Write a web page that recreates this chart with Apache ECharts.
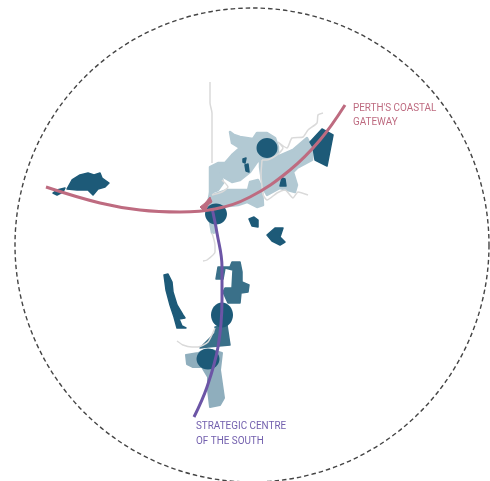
<!DOCTYPE html>
<html><head><meta charset="utf-8">
<style>html,body{margin:0;padding:0;background:#fff}#c{width:490px;height:481px}</style>
<script src="https://cdn.jsdelivr.net/npm/echarts@6/dist/echarts.min.js"></script>
</head><body><div id="c"></div>
<script>
const lightAreas=[
 [[230,132],[234,135],[240,137],[253,139],[257,133],[267,133],[275,138],[278,147],[278,155],[273,158],[260,160],[257,162],[250,172],[240,180],[232,182],[225,178],[221,173],[223,183],[218,190],[210,193],[210,167],[218,163],[225,163],[232,155],[240,148],[232,143]],
 [[210,193],[213,195],[227,190],[248,190],[250,182],[258,180],[262,188],[263,205],[257,207],[247,202],[238,205],[220,207],[207,208]],
 [[260,162],[270,160],[293,150],[307,138],[313,150],[312,160],[297,168],[293,172],[297,185],[295,192],[280,188],[267,195],[263,188],[260,167]],
 [[210,222],[216,224],[216,232],[212,233]]
];
const paleTealAreas=[
 [[212,350],[222,353],[220,370],[224,398],[220,405],[210,407],[208,390],[208,377],[202,367],[193,367],[187,364],[186,355],[198,353]]
];
const midAreas=[
 [[232,262],[240,262],[242,272],[242,282],[249,285],[248,292],[241,293],[240,303],[228,303],[223,292],[225,288],[232,288],[233,270],[225,268],[223,279],[216,279],[218,267],[230,267]],
 [[215,327],[227,325],[230,345],[208,347],[200,348],[210,338],[215,333]]
];
const darkAreas=[
 [[310,142],[322,129],[333,135],[327,166],[315,160],[313,147]],
 [[164,275],[168,274],[172,282],[173,292],[177,305],[183,315],[185,318],[179,319],[182,326],[186,328],[177,328],[174,317],[170,305],[166,290]],
 [[67,189],[72,180],[80,175],[88,173],[94,175],[100,173],[102,178],[109,183],[105,187],[98,189],[93,195],[88,190],[77,190]],
 [[53,193],[57,190],[65,188],[63,192],[57,195]],
 [[249,219],[254,217],[258,220],[258,227],[252,226]],
 [[267,235],[275,228],[283,228],[280,237],[285,242],[280,245],[272,241]],
 [[243,159],[246,158],[245,163],[243,162]],
 [[245,165],[248,164],[249,172],[246,171]],
 [[282,178],[285,179],[286,186],[280,186]]
];
const darkEllipses=[[267,148,10.5,10],[216,214,11,10.5],[222,315,11,12.5],[208,359,11.5,10.5]];
const redMark=[[[200,207],[205,203],[210,197],[212,202],[208,205],[205,212]]];
const rivers=[
 [[210,82],[210,103],[212,113],[212,163]],
 [[212,233],[215,245],[215,252],[207,260],[203,261]],
 [[262,160],[267,160],[277,155],[283,148],[278,142],[287,148],[292,138],[303,137],[308,130],[317,123],[318,115],[323,113]],
 [[263,195],[267,200],[277,193],[285,190],[293,198],[298,192],[308,195]],
 [[262,160],[261,175],[263,195]],
 [[212,195],[222,192],[228,187],[222,180]],
 [[177,341],[183,345],[192,347],[198,347],[208,342],[215,328]]
];
const perthLine=[[46,187],[100,203],[140,210],[180,212],[215,209],[250,197],[290,170],[320,140],[345,105]];
const southLine=[[194,417],[207,387],[218,347],[222,300],[222,267],[217,233],[212,208]];
const boundary=[252,245,237];
const labels=[
 ["PERTH'S COASTAL",353,108,'#BE6B80'],
 ["GATEWAY",353,122,'#BE6B80'],
 ["STRATEGIC CENTRE",196,426,'#7360AE'],
 ["OF THE SOUTH",196,441,'#7360AE']
];
const polySeries=(areas,color,w)=>({
 type:'custom',coordinateSystem:'cartesian2d',silent:true,
 data:areas.map((_,i)=>[i]),
 renderItem:(p,api)=>({type:'polygon',shape:{points:areas[api.value(0)].map(q=>api.coord(q))},style:{fill:color,stroke:color,lineWidth:w,lineJoin:'round'}})
});
const lineSeries=(d,color,w,z)=>({type:'line',data:d,smooth:0.4,symbol:'none',silent:true,z:z,lineStyle:{color:color,width:w,cap:'butt'}});
const chart=echarts.init(document.getElementById('c'),null,{renderer:'canvas'});
chart.setOption({
 animation:false,
 backgroundColor:'#fff',
 grid:{left:0,right:0,top:0,bottom:0},
 xAxis:{type:'value',min:0,max:490,show:false},
 yAxis:{type:'value',min:0,max:481,inverse:true,show:false},
 series:[
  {type:'custom',silent:true,data:[boundary],clip:false,
   renderItem:(p,api)=>{const c=api.coord([api.value(0),api.value(1)]);return {type:'circle',shape:{cx:c[0],cy:c[1],r:api.size([api.value(2),0])[0]},style:{fill:'none',stroke:'#444',lineWidth:1.4,lineDash:[4.5,3]}};}},
  polySeries(lightAreas,'#B2C9D3',2.5),
  polySeries(paleTealAreas,'#8FAEBD',2),
  ...rivers.map(r=>({type:'line',data:r,smooth:0.2,symbol:'none',silent:true,lineStyle:{color:'#DADADA',width:1.5}})),
  polySeries(midAreas,'#3A7089',1.5),
  polySeries(darkAreas,'#1D5A78',1.5),
  {type:'custom',silent:true,data:darkEllipses,
   renderItem:(p,api)=>{const c=api.coord([api.value(0),api.value(1)]);return {type:'ellipse',shape:{cx:c[0],cy:c[1],rx:api.value(2),ry:api.value(3)},style:{fill:'#1D5A78'}};}},
  polySeries(redMark,'#BE6B80',1),
  lineSeries(southLine,'#6C55A6',3,5),
  lineSeries(perthLine,'#BE6B80',3,6),
  {type:'custom',silent:true,z:7,data:labels.map((_,i)=>[i]),
   renderItem:(p,api)=>{const l=labels[api.value(0)];const c=api.coord([l[1],l[2]]);return {type:'text',x:c[0],y:c[1],scaleX:0.86,style:{x:0,y:0,text:l[0],fill:l[3],font:"11.5px Roboto,sans-serif",verticalAlign:'middle'}};}}
 ]
});
</script></body></html>
